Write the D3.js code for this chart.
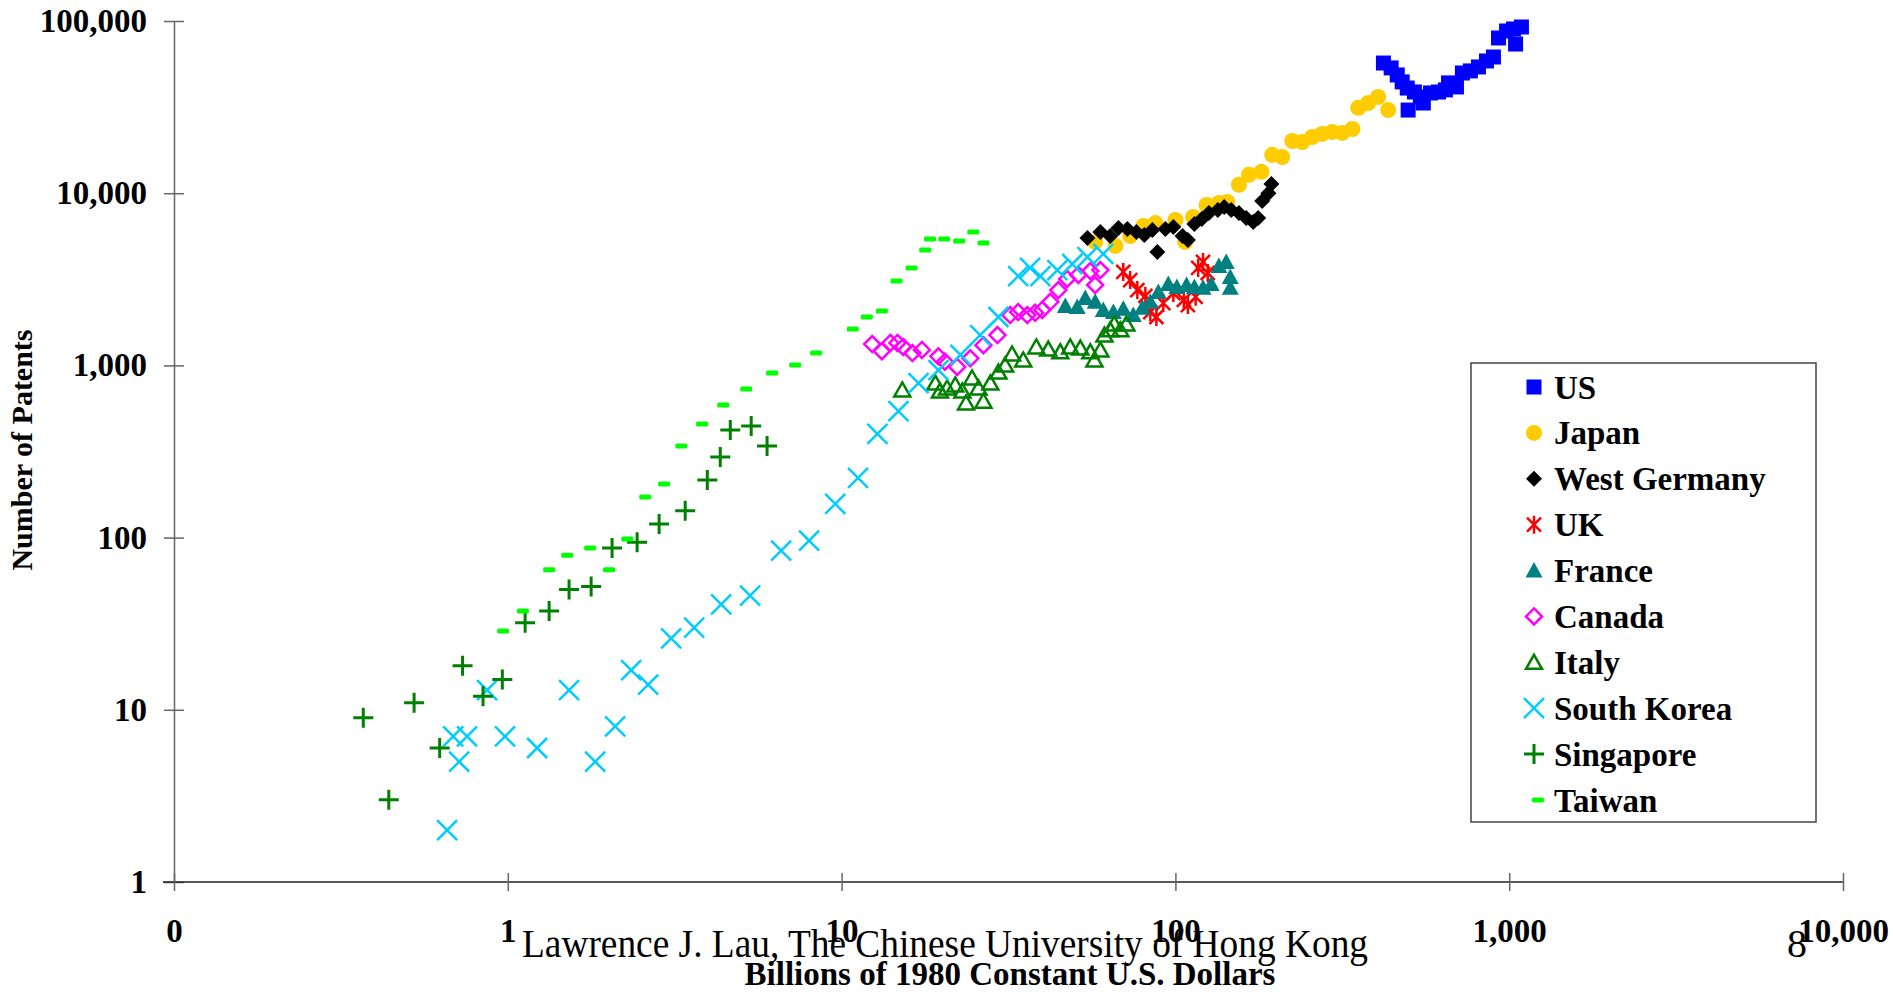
<!DOCTYPE html>
<html>
<head>
<meta charset="utf-8">
<script src="https://cdn.jsdelivr.net/npm/d3@7"></script>
<style>
  html, body { margin: 0; padding: 0; background: #fff; }
  svg { display: block; }
  text { font-family: "Liberation Serif", "Times New Roman", serif; }
</style>
</head>
<body>
<svg id="chart" width="1893" height="994"></svg>
<script>
// ---------------- DATA ----------------
const X_TICKS = [0.1, 1, 10, 100, 1000, 10000];
const X_TICK_LABELS = ["0", "1", "10", "100", "1,000", "10,000"];
const Y_TICKS = [1, 10, 100, 1000, 10000, 100000];
const Y_TICK_LABELS = ["1", "10", "100", "1,000", "10,000", "100,000"];

const SERIES_NAMES = ["US", "Japan", "West Germany", "UK", "France", "Canada", "Italy", "South Korea", "Singapore", "Taiwan"];

// [GDP (billions of 1980 US$), number of patents]
const US = [[420,57000],[443,53400],[462,48600],[478,44300],[495,40800],[498,30400],[520,38700],[542,36200],[553,33400],[581,38200],[614,38700],[644,39800],[658,43700],[695,41400],[724,49900],[765,51300],[809,54100],[855,58600],[897,61800],[929,79700],[982,87500],[1030,89900],[1045,73500],[1088,92300]];
const JAPAN = [[57.5,5210],[66.1,4940],[73.2,5640],[80.2,6450],[87.1,6710],[100,6990],[107,5210],[113,7280],[124,8540],[135,8770],[143,8890],[155,11200],[166,12800],[181,13300],[195,16700],[209,16200],[224,20100],[240,19800],[257,21200],[275,22100],[295,22700],[316,22400],[339,23600],[353,31300],[378,33400],[405,36200],[434,30400]];
const WEST_GERMANY = [[54.5,5500],[59.6,5950],[63.8,5640],[67.5,6280],[71.8,6200],[76.4,5950],[80.7,5720],[85.3,6110],[88.3,4560],[93.3,6200],[98.6,6370],[105,5640],[109,5350],[114,6630],[120,7080],[126,7680],[134,7990],[140,8320],[147,7990],[155,7680],[163,7180],[171,6810],[177,7180],[182,9010],[190,10000],[194,11300]];
const UK = [[69.8,3490],[73.2,3130],[76.9,2740],[81.3,2530],[84.1,2040],[87.7,1910],[92.0,2300],[98.6,2630],[106,2400],[109,2240],[115,2500],[117,3680],[121,3990],[125,3440]];
const FRANCE = [[46.8,2210],[50.8,2180],[53.7,2460],[57.5,2340],[60.8,2100],[65.2,2040],[69.8,2130],[74.8,1960],[79.6,2160],[84.1,2340],[88.9,2670],[95.2,2970],[101,2850],[108,2930],[114,2850],[121,2820],[128,2970],[135,3780],[142,3990],[146,3260],[146,2820]];
const CANADA = [[12.35,1330],[13.2,1210],[14.0,1350],[14.7,1350],[15.3,1280],[16.3,1180],[17.4,1230],[19.5,1130],[20.4,1050],[22.2,980],[24.3,1100],[26.6,1310],[29.3,1500],[32.0,1960],[33.8,2040],[36.0,1960],[38.0,2020],[39.9,2100],[42.2,2340],[44.6,2740],[47.4,3180],[51.2,3350],[55.6,3530],[57.5,2930],[59.6,3580]];
const ITALY = [[15.2,720],[19.1,790],[19.7,710],[20.7,740],[21.9,770],[23.0,710],[23.6,605],[24.6,845],[25.7,740],[26.6,620],[27.9,790],[29.5,915],[30.9,1005],[32.4,1165],[35.0,1075],[38.3,1280],[41.6,1245],[45.2,1200],[48.4,1280],[51.9,1260],[55.6,1200],[57.2,1075],[59.6,1230],[61.3,1500],[63.8,1610],[65.6,1740],[68.4,1610],[71.3,1740]];
const SOUTH_KOREA = [[0.658,2],[0.686,7],[0.715,5],[0.755,7],[0.867,13],[0.981,7],[1.224,6],[1.526,13],[1.827,5],[2.097,8],[2.342,17],[2.633,14],[3.086,26],[3.617,30],[4.357,41],[5.32,46],[6.59,84],[7.99,96],[9.57,157],[11.2,222],[12.8,400],[14.8,543],[17.0,790],[19.5,940],[22.7,1150],[26.0,1500],[29.5,1910],[33.8,3300],[36.7,3680],[39.4,3300],[44.3,3580],[49.1,3880],[54.5,4260],[60.8,4440]];
const SINGAPORE = [[0.369,9],[0.44,3],[0.524,11],[0.625,6],[0.732,18],[0.843,12],[0.963,15],[1.127,32],[1.33,37.5],[1.526,50],[1.777,52],[2.053,87],[2.44,94],[2.84,120],[3.40,143],[3.96,216],[4.33,294],[4.64,422],[5.36,445],[5.98,340]];
const TAIWAN = [[0.968,28.7],[1.11,37.5],[1.33,65],[1.506,79],[1.765,87],[2.01,65],[2.28,98],[2.58,172],[2.94,205],[3.31,340],[3.82,457],[4.42,589],[5.18,729],[6.19,903],[7.26,1005],[8.39,1180],[10.8,1627],[11.9,1911],[13.2,2070],[14.6,3090],[16.2,3680],[17.8,4680],[18.4,5420],[20.3,5420],[22.5,5280],[24.8,5950],[26.6,5140]];

const SERIES_DATA = [US, JAPAN, WEST_GERMANY, UK, FRANCE, CANADA, ITALY, SOUTH_KOREA, SINGAPORE, TAIWAN];

// ---------------- STYLE ----------------
const STYLE = [
  {marker: "square",   color: "#0000FF"},
  {marker: "circle",   color: "#FFCC00"},
  {marker: "diamond",  color: "#000000"},
  {marker: "star",     color: "#FF0000"},
  {marker: "triangle", color: "#008080"},
  {marker: "odiamond", color: "#FF00FF"},
  {marker: "otriangle",color: "#008000"},
  {marker: "x",        color: "#00CCFF"},
  {marker: "plus",     color: "#008000"},
  {marker: "dash",     color: "#00FF00"}
];

function drawMarker(g, type, color) {
  switch (type) {
    case "square":
      g.append("rect").attr("x", -7.5).attr("y", -7.5).attr("width", 15).attr("height", 15).attr("fill", color);
      break;
    case "circle":
      g.append("circle").attr("r", 8).attr("fill", color);
      break;
    case "diamond":
      g.append("path").attr("d", "M0,-8L8,0L0,8L-8,0Z").attr("fill", color);
      break;
    case "odiamond":
      g.append("path").attr("d", "M0,-8L8,0L0,8L-8,0Z").attr("fill", "none").attr("stroke", color).attr("stroke-width", 2.5);
      break;
    case "triangle":
      g.append("path").attr("d", "M0,-8.5L8.5,7L-8.5,7Z").attr("fill", color);
      break;
    case "otriangle":
      g.append("path").attr("d", "M0,-7.5L8,6.5L-8,6.5Z").attr("fill", "none").attr("stroke", color).attr("stroke-width", 2.5);
      break;
    case "star":
      g.append("path").attr("d", "M-7,-7L7,7M7,-7L-7,7M0,-9L0,9").attr("fill", "none").attr("stroke", color).attr("stroke-width", 2.5);
      break;
    case "x":
      g.append("path").attr("d", "M-10,-10L10,10M10,-10L-10,10").attr("fill", "none").attr("stroke", color).attr("stroke-width", 2.5);
      break;
    case "plus":
      g.append("path").attr("d", "M-10,0L10,0M0,-10L0,10").attr("fill", "none").attr("stroke", color).attr("stroke-width", 3);
      break;
    case "dash":
      g.append("rect").attr("x", -6).attr("y", -2.5).attr("width", 12).attr("height", 5).attr("rx", 1.5).attr("fill", color);
      break;
  }
}

// ---------------- CHART ----------------
const svg = d3.select("#chart");
const x = d3.scaleLog().domain([0.1, 10000]).range([174, 1843]);
const y = d3.scaleLog().domain([1, 100000]).range([882, 21]);

// Y axis
const yAxis = d3.axisLeft(y).tickValues(Y_TICKS).tickFormat((d, i) => Y_TICK_LABELS[i])
  .tickSizeInner(10).tickSizeOuter(0).tickPadding(17);
const gy = svg.append("g").attr("transform", `translate(${x(0.1)},0)`).call(yAxis);
gy.select(".domain").attr("stroke", "#666").attr("stroke-width", 1.5);
gy.selectAll(".tick line").attr("x1", -10).attr("x2", 10).attr("stroke", "#666").attr("stroke-width", 1.5);
gy.selectAll(".tick text").attr("font-family", "Liberation Serif, serif").attr("font-weight", "bold")
  .attr("font-size", 33).attr("fill", "#000");

// X axis
const xAxis = d3.axisBottom(x).tickValues(X_TICKS).tickFormat((d, i) => X_TICK_LABELS[i])
  .tickSizeInner(8).tickSizeOuter(0).tickPadding(29);
const gx = svg.append("g").attr("transform", `translate(0,${y(1)})`).call(xAxis);
gx.select(".domain").attr("stroke", "#222").attr("stroke-width", 1.5).attr("d", `M${x(0.1) - 11},0H${x(10000)}`);
gx.selectAll(".tick line").attr("y1", -9).attr("y2", 9).attr("stroke", "#666").attr("stroke-width", 1.5);
gx.selectAll(".tick text").attr("font-family", "Liberation Serif, serif").attr("font-weight", "bold")
  .attr("font-size", 33).attr("fill", "#000");

// Points
SERIES_DATA.forEach((data, si) => {
  const st = STYLE[si];
  svg.append("g").attr("class", "series")
    .selectAll("g").data(data).join("g")
    .attr("transform", d => `translate(${x(d[0])},${y(d[1])})`)
    .each(function () { drawMarker(d3.select(this), st.marker, st.color); });
});

// Axis titles
svg.append("text").attr("transform", "translate(32,450) rotate(-90)")
  .attr("text-anchor", "middle").attr("font-weight", "bold").attr("font-size", 30)
  .text("Number of Patents");

// Footer
svg.append("text").attr("x", 522).attr("y", 957).attr("font-size", 40)
  .attr("textLength", 846).attr("lengthAdjust", "spacingAndGlyphs")
  .text("Lawrence J. Lau, The Chinese University of Hong Kong");
svg.append("text").attr("x", 1787).attr("y", 957).attr("font-size", 40).text("8");

svg.append("text").attr("x", 1010).attr("y", 985).attr("text-anchor", "middle")
  .attr("font-weight", "bold").attr("font-size", 33)
  .text("Billions of 1980 Constant U.S. Dollars");

// Legend
const legend = svg.append("g");
legend.append("rect").attr("x", 1471).attr("y", 363).attr("width", 345).attr("height", 459)
  .attr("fill", "#fff").attr("stroke", "#444").attr("stroke-width", 1.5);
const legendY = d3.scalePoint().domain(SERIES_NAMES).range([387, 800]);
SERIES_NAMES.forEach((name, i) => {
  const gi = legend.append("g").attr("transform", `translate(0,${legendY(name)})`);
  const mg = gi.append("g").attr("transform", `translate(${STYLE[i].marker === "dash" ? 1538 : 1534},0)`);
  drawMarker(mg, STYLE[i].marker, STYLE[i].color);
  gi.append("text").attr("x", 1554).attr("y", 0).attr("dy", "0.35em")
    .attr("font-weight", "bold").attr("font-size", 33).text(name);
});
</script>
</body>
</html>
